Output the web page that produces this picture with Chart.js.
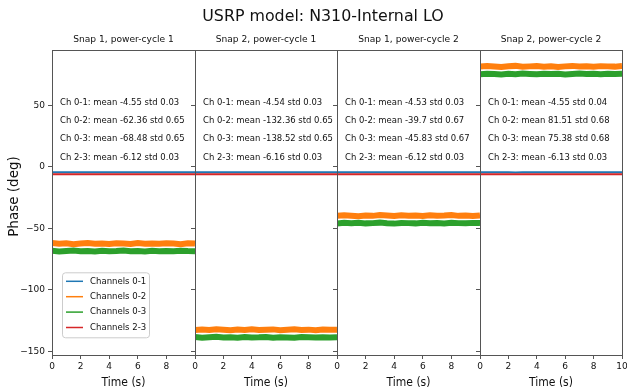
<!DOCTYPE html>
<html>
<head>
<meta charset="utf-8">
<script src="https://cdn.jsdelivr.net/npm/chart.js@4.4.1/dist/chart.umd.min.js"></script>
<style>
  body { margin: 0; background: #fff; }
  #page { position: relative; width: 627px; height: 392px; overflow: hidden; }
  #page canvas { position: absolute; left: 0; top: 0; }
</style>
</head>
<body>
<div id="page"></div>
<script>
const figTitle = "USRP model: N310-Internal LO";
const panelTitles = ["Snap 1, power-cycle 1", "Snap 2, power-cycle 1", "Snap 1, power-cycle 2", "Snap 2, power-cycle 2"];
const pairNames = ["0-1", "0-2", "0-3", "2-3"];
const seriesLabels = ["Channels 0-1", "Channels 0-2", "Channels 0-3", "Channels 2-3"];
const seriesColors = ["#1f77b4", "#ff7f0e", "#2ca02c", "#d62728"];

const yTicks = [-150, -100, -50, 0, 50];
const xTicks = [0, 2, 4, 6, 8, 10];

// stats printed in each panel
const meanVals = [
  [-4.55, -62.36, -68.48, -6.12],
  [-4.54, -132.36, -138.52, -6.16],
  [-4.53, -39.7, -45.83, -6.12],
  [-4.55, 81.51, 75.38, -6.13]
];
const stdVals = [
  [0.03, 0.65, 0.65, 0.03],
  [0.03, 0.65, 0.65, 0.03],
  [0.03, 0.67, 0.67, 0.03],
  [0.04, 0.68, 0.68, 0.03]
];

const timeS = [0, 0.5, 1, 1.5, 2, 2.5, 3, 3.5, 4, 4.5, 5, 5.5, 6, 6.5, 7, 7.5, 8, 8.5, 9, 9.5, 10];

// phase samples per panel (deg)
const ch01 = [
  [-4.55, -4.54, -4.56, -4.55, -4.53, -4.57, -4.55, -4.54, -4.56, -4.55, -4.52, -4.56, -4.55, -4.54, -4.57, -4.55, -4.53, -4.55, -4.56, -4.54, -4.55],
  [-4.54, -4.55, -4.53, -4.56, -4.54, -4.52, -4.55, -4.54, -4.57, -4.53, -4.54, -4.55, -4.53, -4.56, -4.54, -4.55, -4.52, -4.54, -4.56, -4.53, -4.54],
  [-4.53, -4.52, -4.55, -4.53, -4.54, -4.51, -4.53, -4.56, -4.52, -4.53, -4.54, -4.52, -4.55, -4.53, -4.51, -4.54, -4.53, -4.52, -4.55, -4.53, -4.54],
  [-4.55, -4.58, -4.53, -4.56, -4.54, -4.59, -4.55, -4.52, -4.56, -4.54, -4.57, -4.55, -4.51, -4.56, -4.54, -4.58, -4.55, -4.53, -4.56, -4.55, -4.54]
];
const ch02 = [
  [-62.0, -62.5, -62.2, -62.9, -62.4, -61.9, -62.6, -62.3, -62.8, -62.1, -62.4, -62.7, -62.0, -62.5, -62.3, -62.6, -62.2, -62.4, -62.9, -62.1, -62.4],
  [-132.6, -132.1, -132.5, -131.9, -132.4, -132.8, -132.2, -132.5, -132.0, -132.6, -132.3, -132.1, -132.7, -132.4, -132.0, -132.5, -132.3, -132.8, -132.2, -132.4, -132.3],
  [-39.9, -39.4, -39.8, -40.2, -39.6, -39.9, -39.3, -39.7, -40.1, -39.5, -39.8, -39.6, -40.0, -39.4, -39.8, -39.7, -39.3, -39.9, -39.6, -40.1, -39.5],
  [81.3, 81.8, 81.4, 81.0, 81.6, 81.9, 81.2, 81.5, 81.8, 81.3, 81.6, 81.1, 81.5, 81.9, 81.4, 81.6, 81.2, 81.7, 81.5, 81.3, 81.8]
];
const ch03 = [
  [-68.3, -68.8, -68.4, -68.1, -68.7, -68.5, -68.9, -68.2, -68.6, -68.4, -68.0, -68.6, -68.5, -68.9, -68.3, -68.6, -68.4, -68.7, -68.2, -68.5, -68.6],
  [-138.3, -138.8, -138.5, -138.1, -138.7, -138.4, -138.9, -138.3, -138.6, -138.5, -138.2, -138.8, -138.4, -138.6, -138.9, -138.3, -138.5, -138.7, -138.4, -138.6, -138.5],
  [-46.1, -45.6, -45.9, -45.5, -46.0, -45.8, -45.4, -45.9, -46.2, -45.7, -45.8, -46.0, -45.5, -45.9, -45.7, -46.1, -45.6, -45.8, -45.9, -45.6, -45.7],
  [75.1, 75.6, 75.3, 75.0, 75.5, 75.2, 75.7, 75.4, 75.1, 75.6, 75.3, 75.5, 75.0, 75.4, 75.7, 75.3, 75.5, 75.2, 75.6, 75.4, 75.5]
];
const ch23 = [
  [-6.12, -6.13, -6.11, -6.12, -6.14, -6.10, -6.12, -6.13, -6.11, -6.12, -6.15, -6.12, -6.11, -6.13, -6.12, -6.10, -6.12, -6.14, -6.12, -6.11, -6.12],
  [-6.16, -6.15, -6.17, -6.16, -6.14, -6.16, -6.18, -6.15, -6.16, -6.17, -6.15, -6.16, -6.14, -6.16, -6.17, -6.16, -6.15, -6.18, -6.16, -6.15, -6.16],
  [-6.12, -6.11, -6.13, -6.12, -6.10, -6.12, -6.14, -6.12, -6.11, -6.13, -6.12, -6.10, -6.12, -6.13, -6.11, -6.12, -6.14, -6.12, -6.11, -6.12, -6.13],
  [-6.13, -6.12, -6.14, -6.13, -6.11, -6.13, -6.15, -6.12, -6.13, -6.14, -6.12, -6.13, -6.11, -6.13, -6.14, -6.12, -6.13, -6.15, -6.13, -6.12, -6.13]
];

const W = 627, H = 392;
const panelEdges = [52, 195, 337, 480, 622];
const plotTop = 50, plotBottom = 355;
const yMin = -152.9, yMax = 94.8;
const frameColor = "#555";

Chart.defaults.font.family = "DejaVu Sans";
Chart.defaults.color = "#111";

const minusFmt = v => v < 0 ? "\u2212" + Math.abs(v) : String(v);

// text with a slight horizontal squeeze, like the reference rendering
function txt(ctx, s, x, y, size, sx, align) {
  ctx.save();
  ctx.translate(x, y);
  ctx.scale(sx, 1);
  ctx.font = size + "px 'DejaVu Sans'";
  ctx.textAlign = align;
  ctx.textBaseline = "middle";
  ctx.fillText(s, 0, 0);
  ctx.restore();
}

const panelDecor = {
  id: "panelDecor",
  afterDraw(chart, args, opts) {
    const ctx = chart.ctx;
    const a = chart.chartArea;
    const i = opts.index;
    ctx.save();
    ctx.strokeStyle = frameColor;
    ctx.lineWidth = 1;
    ctx.strokeRect(Math.round(a.left) + 0.5, Math.round(a.top) + 0.5,
      Math.round(a.right - a.left), Math.round(a.bottom - a.top));

    ctx.fillStyle = "#111";
    const cx = (a.left + a.right) / 2;
    txt(ctx, panelTitles[i], cx, a.top - 10, 9.5, 0.96, "center");
    txt(ctx, "Time (s)", cx, 382.5, 12, 0.9, "center");

    const rows = [102.3, 120.7, 139, 157.3];
    pairNames.forEach((p, k) => {
      txt(ctx, `Ch ${p}: mean ${meanVals[i][k]} std ${stdVals[i][k]}`, a.left + 8, rows[k], 9, 0.94, "left");
    });

    if (i === 0) {
      txt(ctx, figTitle, 323, 17, 16.5, 0.96, "center");

      ctx.save();
      ctx.translate(14, (a.top + a.bottom) / 2 - 6);
      ctx.rotate(-Math.PI / 2);
      txt(ctx, "Phase (deg)", 0, 0, 13.5, 1.0, "center");
      ctx.restore();

      // legend
      const lx = a.left + 10, ly = 272.3, lw = 87, lh = 65;
      ctx.beginPath();
      ctx.roundRect(lx + 0.5, ly + 0.5, lw, lh, 3);
      ctx.fillStyle = "rgba(255,255,255,0.8)";
      ctx.fill();
      ctx.strokeStyle = "#ccc";
      ctx.stroke();
      seriesLabels.forEach((lab, k) => {
        const cy = ly + 9 + k * 15.4;
        ctx.strokeStyle = seriesColors[k];
        ctx.lineWidth = 1.5;
        ctx.beginPath();
        ctx.moveTo(lx + 4, cy);
        ctx.lineTo(lx + 21, cy);
        ctx.stroke();
        ctx.fillStyle = "#111";
        txt(ctx, lab, lx + 28, cy, 9, 0.95, "left");
      });
    }
    ctx.restore();
  }
};

const page = document.getElementById("page");
const series = [ch01, ch02, ch03, ch23];

panelTitles.forEach((t, i) => {
  const cv = document.createElement("canvas");
  cv.width = W; cv.height = H;
  cv.style.width = W + "px"; cv.style.height = H + "px";
  page.appendChild(cv);

  const yW = i === 0 ? 40 : 10;

  const datasets = series.map((s, k) => ({
    label: seriesLabels[k],
    data: timeS.map((x, j) => ({ x: x, y: s[i][j] })),
    borderColor: seriesColors[k],
    borderWidth: (k === 1 || k === 2) ? 6 : 2,
    pointRadius: 0,
    tension: 0,
    order: 4 - k
  }));

  new Chart(cv, {
    type: "line",
    data: { datasets },
    plugins: [panelDecor],
    options: {
      responsive: false,
      animation: false,
      events: [],
      layout: {
        padding: {
          left: panelEdges[i] - yW,
          right: W - panelEdges[i + 1],
          top: plotTop,
          bottom: H - plotBottom - 20
        }
      },
      plugins: {
        legend: { display: false },
        tooltip: { enabled: false },
        panelDecor: { index: i }
      },
      scales: {
        x: {
          type: "linear",
          min: 0, max: 10,
          afterBuildTicks: s => { s.ticks = xTicks.map(v => ({ value: v })); },
          afterFit: s => { s.height = 20; s.paddingLeft = 0; s.paddingRight = 0; },
          ticks: {
            font: { size: 9 },
            padding: 2,
            maxRotation: 0,
            callback: v => (v === 10 && i < 3) ? "" : String(v)
          },
          grid: { drawOnChartArea: false, drawTicks: true, tickLength: 4, color: frameColor },
          border: { display: false }
        },
        y: {
          min: yMin, max: yMax,
          afterBuildTicks: s => { s.ticks = yTicks.map(v => ({ value: v })); },
          afterFit: s => { s.width = yW; s.paddingTop = 0; s.paddingBottom = 0; },
          ticks: {
            display: i === 0,
            font: { size: 9 },
            padding: 3,
            callback: v => minusFmt(v)
          },
          grid: { drawOnChartArea: false, drawTicks: true, tickLength: 4, color: frameColor },
          border: { display: false }
        }
      }
    }
  });
});
</script>
</body>
</html>
